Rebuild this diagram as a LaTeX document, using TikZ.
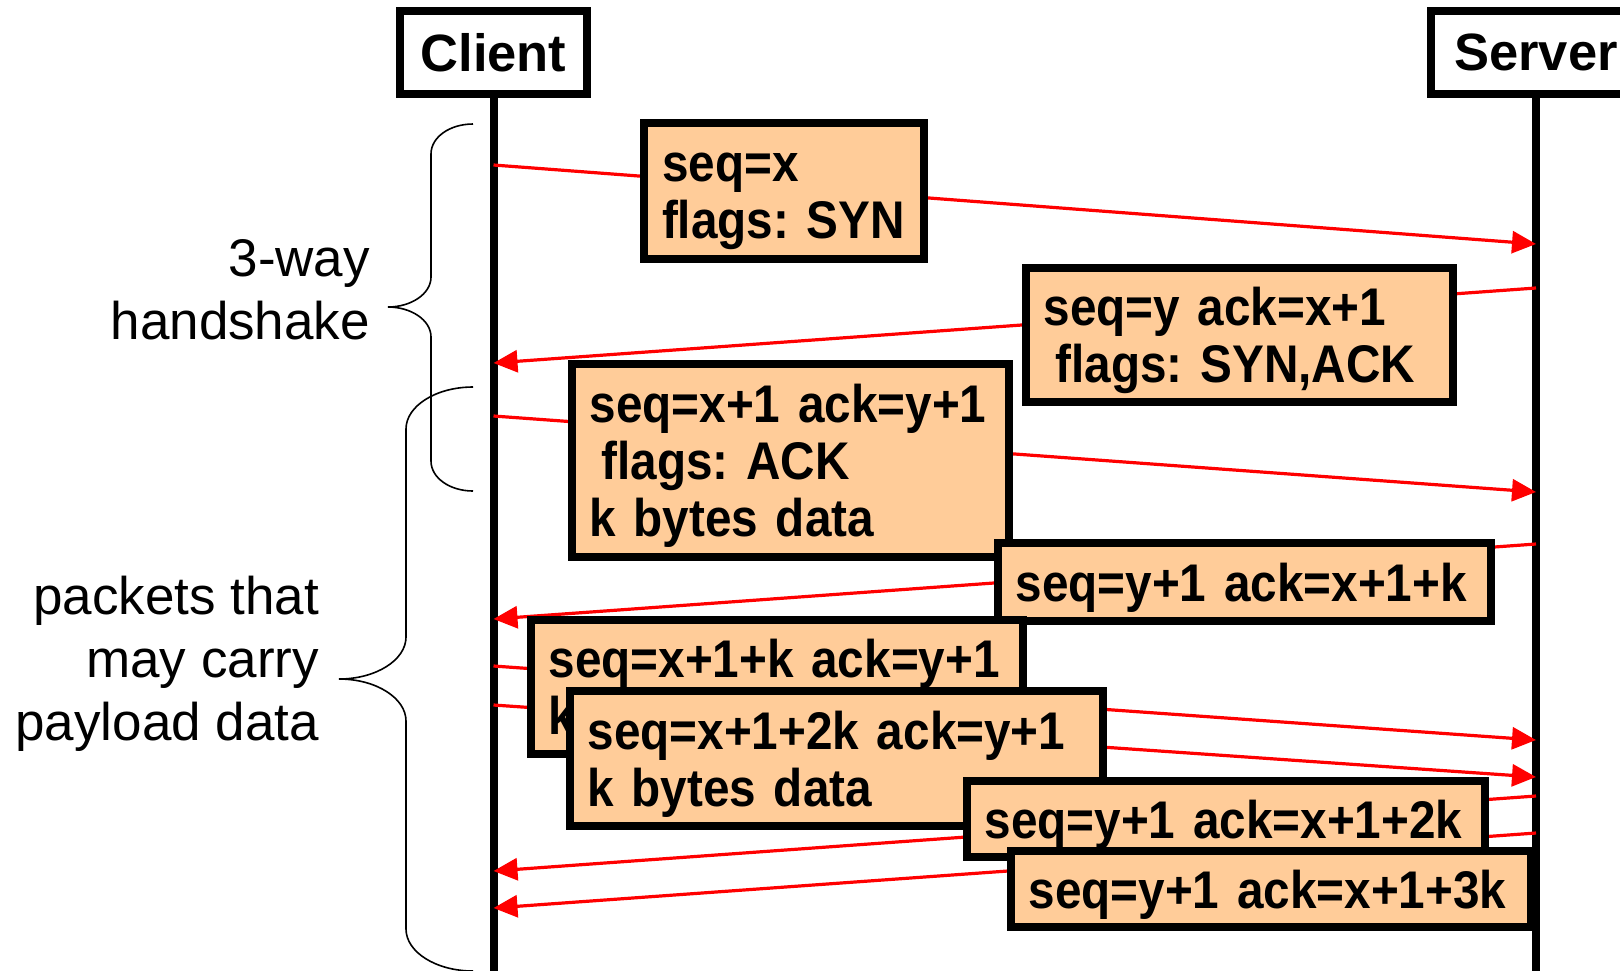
\documentclass[tikz,border=0pt]{standalone}
\usepackage{fontspec}
\setmainfont{Liberation Sans}
\newfontfamily\pktfont[FakeStretch=0.9]{Liberation Sans}
\usetikzlibrary{arrows.meta}
\definecolor{peach}{HTML}{FFCC99}

\begin{document}
\begin{tikzpicture}[x=0.5pt, y=-0.5pt, >={Triangle[length=12pt,width=11pt]},
  host/.style={draw, line width=4pt, inner sep=0pt,
    font=\bfseries\fontsize{26.25}{30}\selectfont},
  life/.style={line width=4pt},
  msg/.style={->, red, line width=1.6pt},
  pkt/.style={draw, line width=4pt, fill=peach, anchor=north west,
    align=left, inner xsep=9pt, inner ysep=0pt,
    font=\pktfont\bfseries\fontsize{26.5}{28.5}\selectfont\frenchspacing,
    execute at begin node={\vrule height 25pt width 0pt}},
  brace/.style={line width=0.8pt},
  note/.style={align=right, anchor=east,
    font=\fontsize{26.5}{31.5}\selectfont}]
  \useasboundingbox (0,0) rectangle (1620,970);

  \node[host, minimum width=93.5pt, minimum height=41.5pt] (client) at (493.5,52.5) {Client};
  \node[host, minimum width=105pt, minimum height=41.5pt] (server) at (1536,52.5) {Server};
  \draw[life] (client.south) -- ++(0,880);
  \draw[life] (server.south) -- ++(0,880);

  \coordinate (c1) at (493.5,165);  \coordinate (s1) at (1536,244);
  \coordinate (s2) at (1536,288);   \coordinate (c2) at (493.5,363);
  \coordinate (c3) at (493.5,416);  \coordinate (s3) at (1536,492);
  \coordinate (s4) at (1536,544);   \coordinate (c4) at (493.5,619);
  \coordinate (c5) at (493.5,666);  \coordinate (s5) at (1536,740);
  \coordinate (c6) at (493.5,705);  \coordinate (s6) at (1536,777);
  \coordinate (s7) at (1536,796);   \coordinate (c7) at (493.5,871);
  \coordinate (s8) at (1536,833);   \coordinate (c8) at (493.5,908);

  \draw[msg] (c1) -- (s1);
  \draw[msg] (s2) -- (c2);
  \draw[msg] (c3) -- (s3);
  \draw[msg] (s4) -- (c4);
  \draw[msg] (c5) -- (s5);
  \draw[msg] (c6) -- (s6);
  \draw[msg] (s7) -- (c7);
  \draw[msg] (s8) -- (c8);

  \node[pkt, text width=122pt, minimum height=68pt] (p1) at (640,119)
    {seq=x\\flags: SYN};
  \node[pkt, text width=195.5pt, minimum height=67pt] (p2) at (1021.5,263.5)
    {seq=y ack=x+1\\\hspace*{6pt}flags: SYN,ACK};
  \node[pkt, text width=200.5pt, minimum height=96.5pt] (p3) at (567.5,359.5)
    {seq=x+1 ack=y+1\\\hspace*{6pt}flags: ACK\\k bytes data};
  \node[pkt, text width=228.5pt, minimum height=39pt] (p4) at (993.5,538.5)
    {seq=y+1 ack=x+1+k};
  \node[pkt, text width=228pt, minimum height=67pt] (p5) at (526.5,615.5)
    {seq=x+1+k ack=y+1\\k bytes data};
  \node[pkt, text width=248.5pt, minimum height=67.5pt] (p6) at (565.5,686.5)
    {seq=x+1+2k ack=y+1\\k bytes data};
  \node[pkt, text width=241pt, minimum height=38pt] (p7) at (962.5,776.5)
    {seq=y+1 ack=x+1+2k};
  \node[pkt, text width=242pt, minimum height=38pt] (p8) at (1006.5,846.5)
    {seq=y+1 ack=x+1+3k};

  % braces
  \draw[brace] (473,124) .. controls (450,124) and (431,137) .. (431,154)
    -- (431,277) .. controls (431,294) and (411,307) .. (388,307)
    .. controls (411,307) and (431,320) .. (431,337)
    -- (431,461) .. controls (431,478) and (450,491) .. (473,491);
  \draw[brace] (473,387) .. controls (436,387) and (406,406) .. (406,429)
    -- (406,637) .. controls (406,660) and (376,679) .. (339,679)
    .. controls (376,679) and (406,698) .. (406,721)
    -- (406,929) .. controls (406,952) and (436,971) .. (473,971);

  \node[note] (hs) at (377,290) {3-way\\handshake};
  \node[note] (pl) at (326,664) {packets that\\may carry\\payload data};
\end{tikzpicture}
\end{document}
